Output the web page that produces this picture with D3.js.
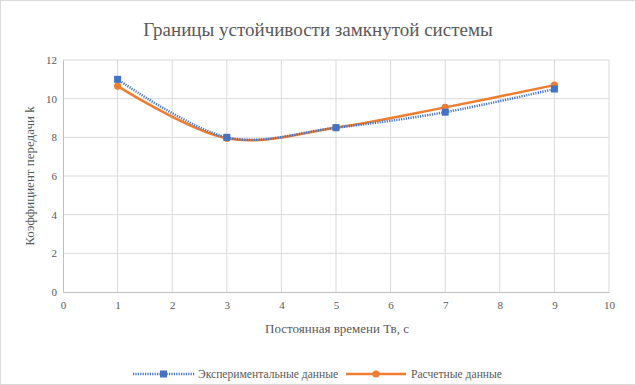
<!DOCTYPE html>
<html>
<head>
<meta charset="utf-8">
<script src="https://cdn.jsdelivr.net/npm/d3@7"></script>
<style>
  body { margin: 0; background: #fff; }
  svg { font-family: "Liberation Serif", serif; }
  .tick text { fill: #595959; font-size: 11px; }
</style>
</head>
<body>
<svg width="636" height="385"></svg>
<script>
  const xValues = [1, 3, 5, 7, 9];
  const expValues = [11, 8, 8.5, 9.3, 10.5];
  const calcValues = [10.65, 7.95, 8.5, 9.55, 10.7];
  const xTicks = [0, 1, 2, 3, 4, 5, 6, 7, 8, 9, 10];
  const yTicks = [0, 2, 4, 6, 8, 10, 12];

  const svg = d3.select('svg');

  svg.append('rect')
    .attr('x', 0.5).attr('y', 0.5)
    .attr('width', 635).attr('height', 384)
    .attr('fill', '#fff').attr('stroke', '#d9d9d9');

  const x = d3.scaleLinear().domain([0, 10]).range([63, 609]);
  const y = d3.scaleLinear().domain([0, 12]).range([292, 60]);

  // grid
  svg.append('g').selectAll('line').data(yTicks.filter(d => d > 0))
    .enter().append('line')
      .attr('x1', x(0)).attr('x2', x(10))
      .attr('y1', d => y(d)).attr('y2', d => y(d))
      .attr('stroke', '#d9d9d9');
  svg.append('g').selectAll('line').data(xTicks.filter(d => d > 0))
    .enter().append('line')
      .attr('x1', d => x(d)).attr('x2', d => x(d))
      .attr('y1', y(0)).attr('y2', y(12))
      .attr('stroke', '#d9d9d9');

  const xAxis = svg.append('g')
    .attr('transform', `translate(0,${y(0)})`)
    .call(d3.axisBottom(x).tickValues(xTicks).tickSize(0).tickPadding(9));
  xAxis.select('.domain').attr('stroke', '#bfbfbf');

  const yAxis = svg.append('g')
    .attr('transform', `translate(${x(0)},0)`)
    .call(d3.axisLeft(y).tickValues(yTicks).tickSize(0).tickPadding(6));
  yAxis.select('.domain').attr('stroke', '#bfbfbf');
  svg.selectAll('.tick text').attr('font-family', '"Liberation Serif", serif');

  const line = d3.line()
    .x((d, i) => x(xValues[i]))
    .y(d => y(d))
    .curve(d3.curveCatmullRom.alpha(0));

  svg.append('path')
    .attr('d', line(calcValues))
    .attr('fill', 'none')
    .attr('stroke', '#ed7d31')
    .attr('stroke-width', 2.5);

  svg.append('path')
    .attr('d', line(expValues))
    .attr('fill', 'none')
    .attr('stroke', '#4472c4')
    .attr('stroke-width', 2.5)
    .attr('stroke-dasharray', '1.2,1.2');

  svg.append('g').selectAll('circle').data(calcValues)
    .enter().append('circle')
      .attr('cx', (d, i) => x(xValues[i]))
      .attr('cy', d => y(d))
      .attr('r', 3.6)
      .attr('fill', '#ed7d31');

  svg.append('g').selectAll('rect').data(expValues)
    .enter().append('rect')
      .attr('x', (d, i) => x(xValues[i]) - 3.5)
      .attr('y', d => y(d) - 3.5)
      .attr('width', 7).attr('height', 7)
      .attr('fill', '#4472c4');

  svg.append('text')
    .attr('x', 318).attr('y', 36)
    .attr('text-anchor', 'middle')
    .attr('font-size', 19)
    .attr('fill', '#595959')
    .text('Границы устойчивости замкнутой системы');

  svg.append('text')
    .attr('x', 337).attr('y', 333)
    .attr('text-anchor', 'middle')
    .attr('font-size', 13)
    .attr('fill', '#595959')
    .text('Постоянная времени Тв, с');

  svg.append('text')
    .attr('transform', `translate(34,${(y(0) + y(12)) / 2}) rotate(-90)`)
    .attr('text-anchor', 'middle')
    .attr('font-size', 13)
    .attr('fill', '#595959')
    .text('Коэффициент передачи k');

  // legend
  const legend = svg.append('g').attr('transform', 'translate(0,374)');
  legend.append('line')
    .attr('x1', 133).attr('x2', 195)
    .attr('stroke', '#4472c4').attr('stroke-width', 2.5)
    .attr('stroke-dasharray', '1.2,1.2');
  legend.append('rect')
    .attr('x', 160).attr('y', -3.5).attr('width', 7).attr('height', 7)
    .attr('fill', '#4472c4');
  legend.append('text')
    .attr('x', 198).attr('y', 4)
    .attr('font-size', 11.6).attr('fill', '#595959')
    .text('Экспериментальные данные');
  legend.append('line')
    .attr('x1', 346).attr('x2', 406)
    .attr('stroke', '#ed7d31').attr('stroke-width', 2.5);
  legend.append('circle')
    .attr('cx', 376).attr('r', 3.6)
    .attr('fill', '#ed7d31');
  legend.append('text')
    .attr('x', 411).attr('y', 4)
    .attr('font-size', 11.6).attr('fill', '#595959')
    .text('Расчетные данные');
</script>
</body>
</html>
